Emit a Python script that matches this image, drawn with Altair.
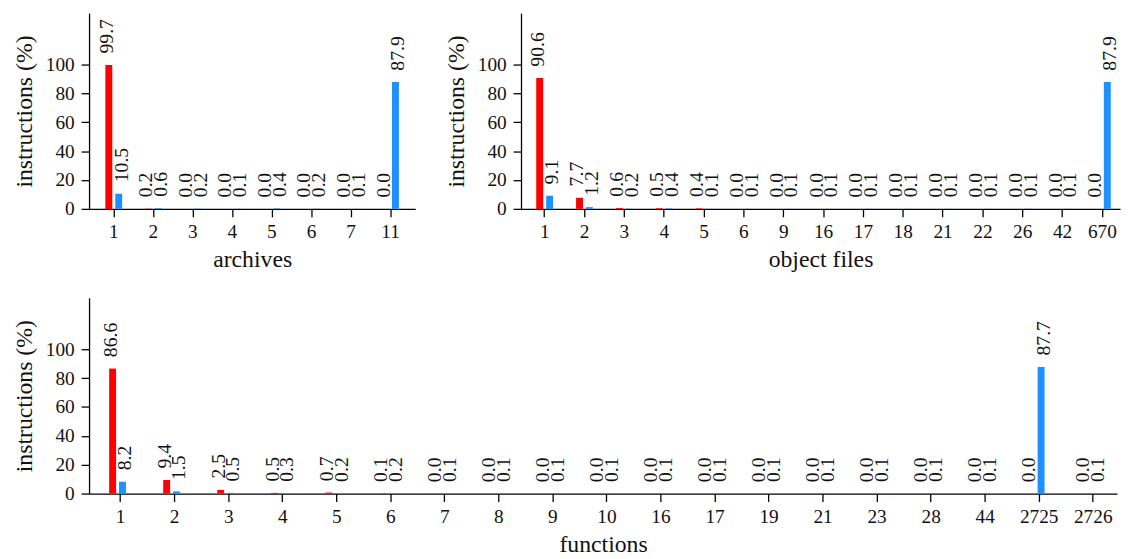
import altair as alt
import pandas as pd

FONT = "Liberation Serif"

archives_cats = ["1", "2", "3", "4", "5", "6", "7", "11"]
archives_red = [99.7, 0.2, 0.0, 0.0, 0.0, 0.0, 0.0, 0.0]
archives_blue = [10.5, 0.6, 0.2, 0.1, 0.4, 0.2, 0.1, 87.9]

objects_cats = ["1", "2", "3", "4", "5", "6", "9", "16", "17", "18", "21", "22", "26", "42", "670"]
objects_red = [90.6, 7.7, 0.6, 0.5, 0.4, 0.0, 0.0, 0.0, 0.0, 0.0, 0.0, 0.0, 0.0, 0.0, 0.0]
objects_blue = [9.1, 1.2, 0.2, 0.4, 0.1, 0.1, 0.1, 0.1, 0.1, 0.1, 0.1, 0.1, 0.1, 0.1, 87.9]

functions_cats = ["1", "2", "3", "4", "5", "6", "7", "8", "9", "10", "16", "17", "19", "21",
                  "23", "28", "44", "2725", "2726"]
functions_red = [86.6, 9.4, 2.5, 0.5, 0.7, 0.1, 0.0, 0.0, 0.0, 0.0, 0.0, 0.0, 0.0, 0.0,
                 0.0, 0.0, 0.0, 0.0, 0.0]
functions_blue = [8.2, 1.5, 0.5, 0.3, 0.2, 0.2, 0.1, 0.1, 0.1, 0.1, 0.1, 0.1, 0.1, 0.1,
                  0.1, 0.1, 0.1, 87.7, 0.1]

series_names = ["A", "B"]
series_colors = ["#ff0000", "#1e90ff"]
y_ticks = [0, 20, 40, 60, 80, 100]


def panel(cats, red, blue, xtitle, width, po, align):
    n = len(cats)
    df = pd.DataFrame({
        "cat": cats + cats,
        "series": [series_names[0]] * n + [series_names[1]] * n,
        "value": red + blue,
    })
    base = alt.Chart(df).encode(
        x=alt.X("cat:N", sort=cats, title=xtitle,
                scale=alt.Scale(paddingInner=0.575, paddingOuter=po, align=align, round=False),
                axis=alt.Axis(labelAngle=0, labelFont=FONT, titleFont=FONT)),
        xOffset=alt.XOffset("series:N", sort=series_names,
                            scale=alt.Scale(paddingInner=0.3, round=False)),
        y=alt.Y("value:Q", scale=alt.Scale(domain=[0, 135.6], nice=False),
                axis=alt.Axis(values=y_ticks, title="instructions (%)",
                              labelFont=FONT, titleFont=FONT)),
    )
    bars = base.mark_bar().encode(
        color=alt.Color("series:N", scale=alt.Scale(domain=series_names, range=series_colors),
                        legend=None)
    )
    layers = [bars]
    for name, shift in zip(series_names, [-2.0, 3.0]):
        layers.append(
            base.transform_filter(alt.datum.series == name).mark_text(
                angle=270, align="left", baseline="middle", dx=11.5, dy=shift,
                fontSize=20, font=FONT, color="#111").encode(
                text=alt.Text("value:Q", format=".1f"))
        )
    return alt.layer(*layers).properties(width=width, height=198)


# band start / step chosen so ticks land where the reference has them
a = panel(archives_cats, archives_red, archives_blue, "archives", 330, 0.4125, 0.5)
b = panel(objects_cats, objects_red, objects_blue, "object files", 606, 0.306, 0.625)
c = panel(functions_cats, functions_red, functions_blue, "functions", 1040, 0.30, 0.62)

chart = alt.vconcat(
    alt.hconcat(a, b, spacing=29),
    c,
    spacing=26,
).properties(
    padding={"left": 4, "top": 2, "right": 0, "bottom": 0}
).configure(font=FONT).configure_view(stroke=None).configure_axis(
    labelFontSize=19.5, titleFontSize=24,
    titleFontWeight="normal", labelColor="#111", titleColor="#111",
    domainColor="#000", tickColor="#000", domainWidth=1.3, tickWidth=1.3,
    tickSize=8, grid=False,
).configure_axisY(
    labelPadding=7, titlePadding=9,
).configure_axisX(
    labelPadding=6, titlePadding=7,
).configure_concat(spacing=26)

chart.save("out.html", embed_options={"renderer": "svg", "actions": False})
